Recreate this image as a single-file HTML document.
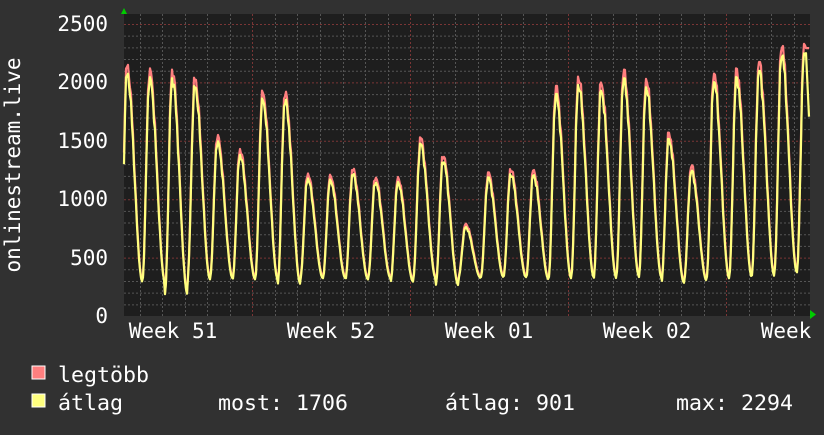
<!DOCTYPE html><html><head><meta charset="utf-8"><style>
body{margin:0;background:#313131;width:824px;height:430px;overflow:hidden}
text{font-family:"DejaVu Sans Mono","Liberation Mono",monospace;fill:#fff}
</style></head><body>
<svg id="s" width="824" height="430" xmlns="http://www.w3.org/2000/svg">
<rect width="824" height="430" fill="#313131"/>
<rect x="124" y="14" width="686" height="302" fill="#1e1e1e"/>
<g id="grid"></g>
<g id="data"></g>
<polygon points="121,14 127,14 124,8" fill="#0c0"/>
<polygon points="810,310 810,319 816,314.5" fill="#0c0"/>
<g font-size="21" text-anchor="end">
<text x="108" y="323">0</text><text x="108" y="265">500</text><text x="108" y="206">1000</text>
<text x="108" y="148">1500</text><text x="108" y="89">2000</text><text x="108" y="31">2500</text>
</g>
<text transform="translate(20,165) rotate(-90)" font-size="21" text-anchor="middle">onlinestream.live</text>
<g font-size="21" text-anchor="middle">
<text x="173" y="338">Week 51</text><text x="331" y="338">Week 52</text><text x="489" y="338">Week 01</text><text x="647" y="338">Week 02</text><text x="786" y="338">Week</text>
</g>
<rect x="32" y="366" width="13" height="13" fill="#ff7f7f" stroke="#fff" stroke-width="1"/>
<rect x="32" y="394" width="13" height="13" fill="#ffff7f" stroke="#fff" stroke-width="1"/>
<g font-size="21.6">
<text x="58" y="382">legtöbb</text>
<text x="58" y="410">átlag</text>
<text x="218" y="410">most: 1706</text>
<text x="445" y="410">átlag: 901</text>
<text x="676" y="410">max: 2294</text>
</g>
</svg>
<script>
var NS="http://www.w3.org/2000/svg",g=document.getElementById('grid'),d=document.getElementById('data');
function Y(v){return 316-v*0.1168}
function ln(x1,y1,x2,y2,c){var l=document.createElementNS(NS,'line');l.setAttribute('x1',x1);l.setAttribute('y1',y1);l.setAttribute('x2',x2);l.setAttribute('y2',y2);l.setAttribute('stroke',c);l.setAttribute('stroke-width',1);l.setAttribute('stroke-dasharray','2,2');g.appendChild(l)}
for(var v=100;v<=2500;v+=100){ln(124,Y(v)+.5,810,Y(v)+.5,v%500==0?'#7a3535':'#555')}
for(var x=139.5;x<810;x+=22.57){var wk=[252,410,568,726].some(function(w){return Math.abs(w-x)<3});ln(Math.round(x)+.5,14,Math.round(x)+.5,318,wk?'#7a3535':'#555')}
var P=[2150,2120,2110,2040,1550,1430,1930,1920,1220,1210,1260,1190,1190,1530,1380,790,1230,1260,1250,1970,2050,2000,2110,2030,1570,1290,2090,2120,2180,2330,2330];
var M=[300,300,190,320,330,320,320,280,330,330,320,330,300,330,270,330,340,340,320,330,340,330,350,340,290,310,330,340,350,380,380];
var PM=0.68;
function val(x,avg){var t=(x-127)/22.57;var k=Math.floor(t),p=t-k;var pk,mn,f;
 if(p<PM){pk=P[Math.max(0,k)];mn=M[Math.max(0,k)];var q=p/PM;f=(1+Math.cos(Math.PI*q))/2;}
 else{pk=P[Math.min(30,k+1)];mn=M[Math.min(30,k+1)];var q=(p-PM)/(1-PM);f=(1-Math.cos(Math.PI*q))/2;}
 var n=Math.sin(x*3.7)*0.025+Math.sin(x*1.3)*0.015;
 var top=avg?pk*0.965:pk;var base=avg?mn*0.98:mn*1.03;
 return base+(top-base)*Math.min(1,Math.max(0,f+n*f))}
function path(avg,c){var s='';for(var x=124;x<=809;x+=1){var v=val(x,avg);if(x==124)v=avg?1300:1400;if(x>=806)v=avg?1706+(2250-1706)*(809-x)/3:2294;s+=(x==124?'M':'L')+x+','+Y(v).toFixed(1)}
 var p=document.createElementNS(NS,'path');p.setAttribute('d',s);p.setAttribute('fill','none');p.setAttribute('stroke',c);p.setAttribute('stroke-width',2.2);p.setAttribute('stroke-linejoin','round');d.appendChild(p)}
path(false,'#ff7f7f');path(true,'#ffff7f');
</script>
</body></html>
